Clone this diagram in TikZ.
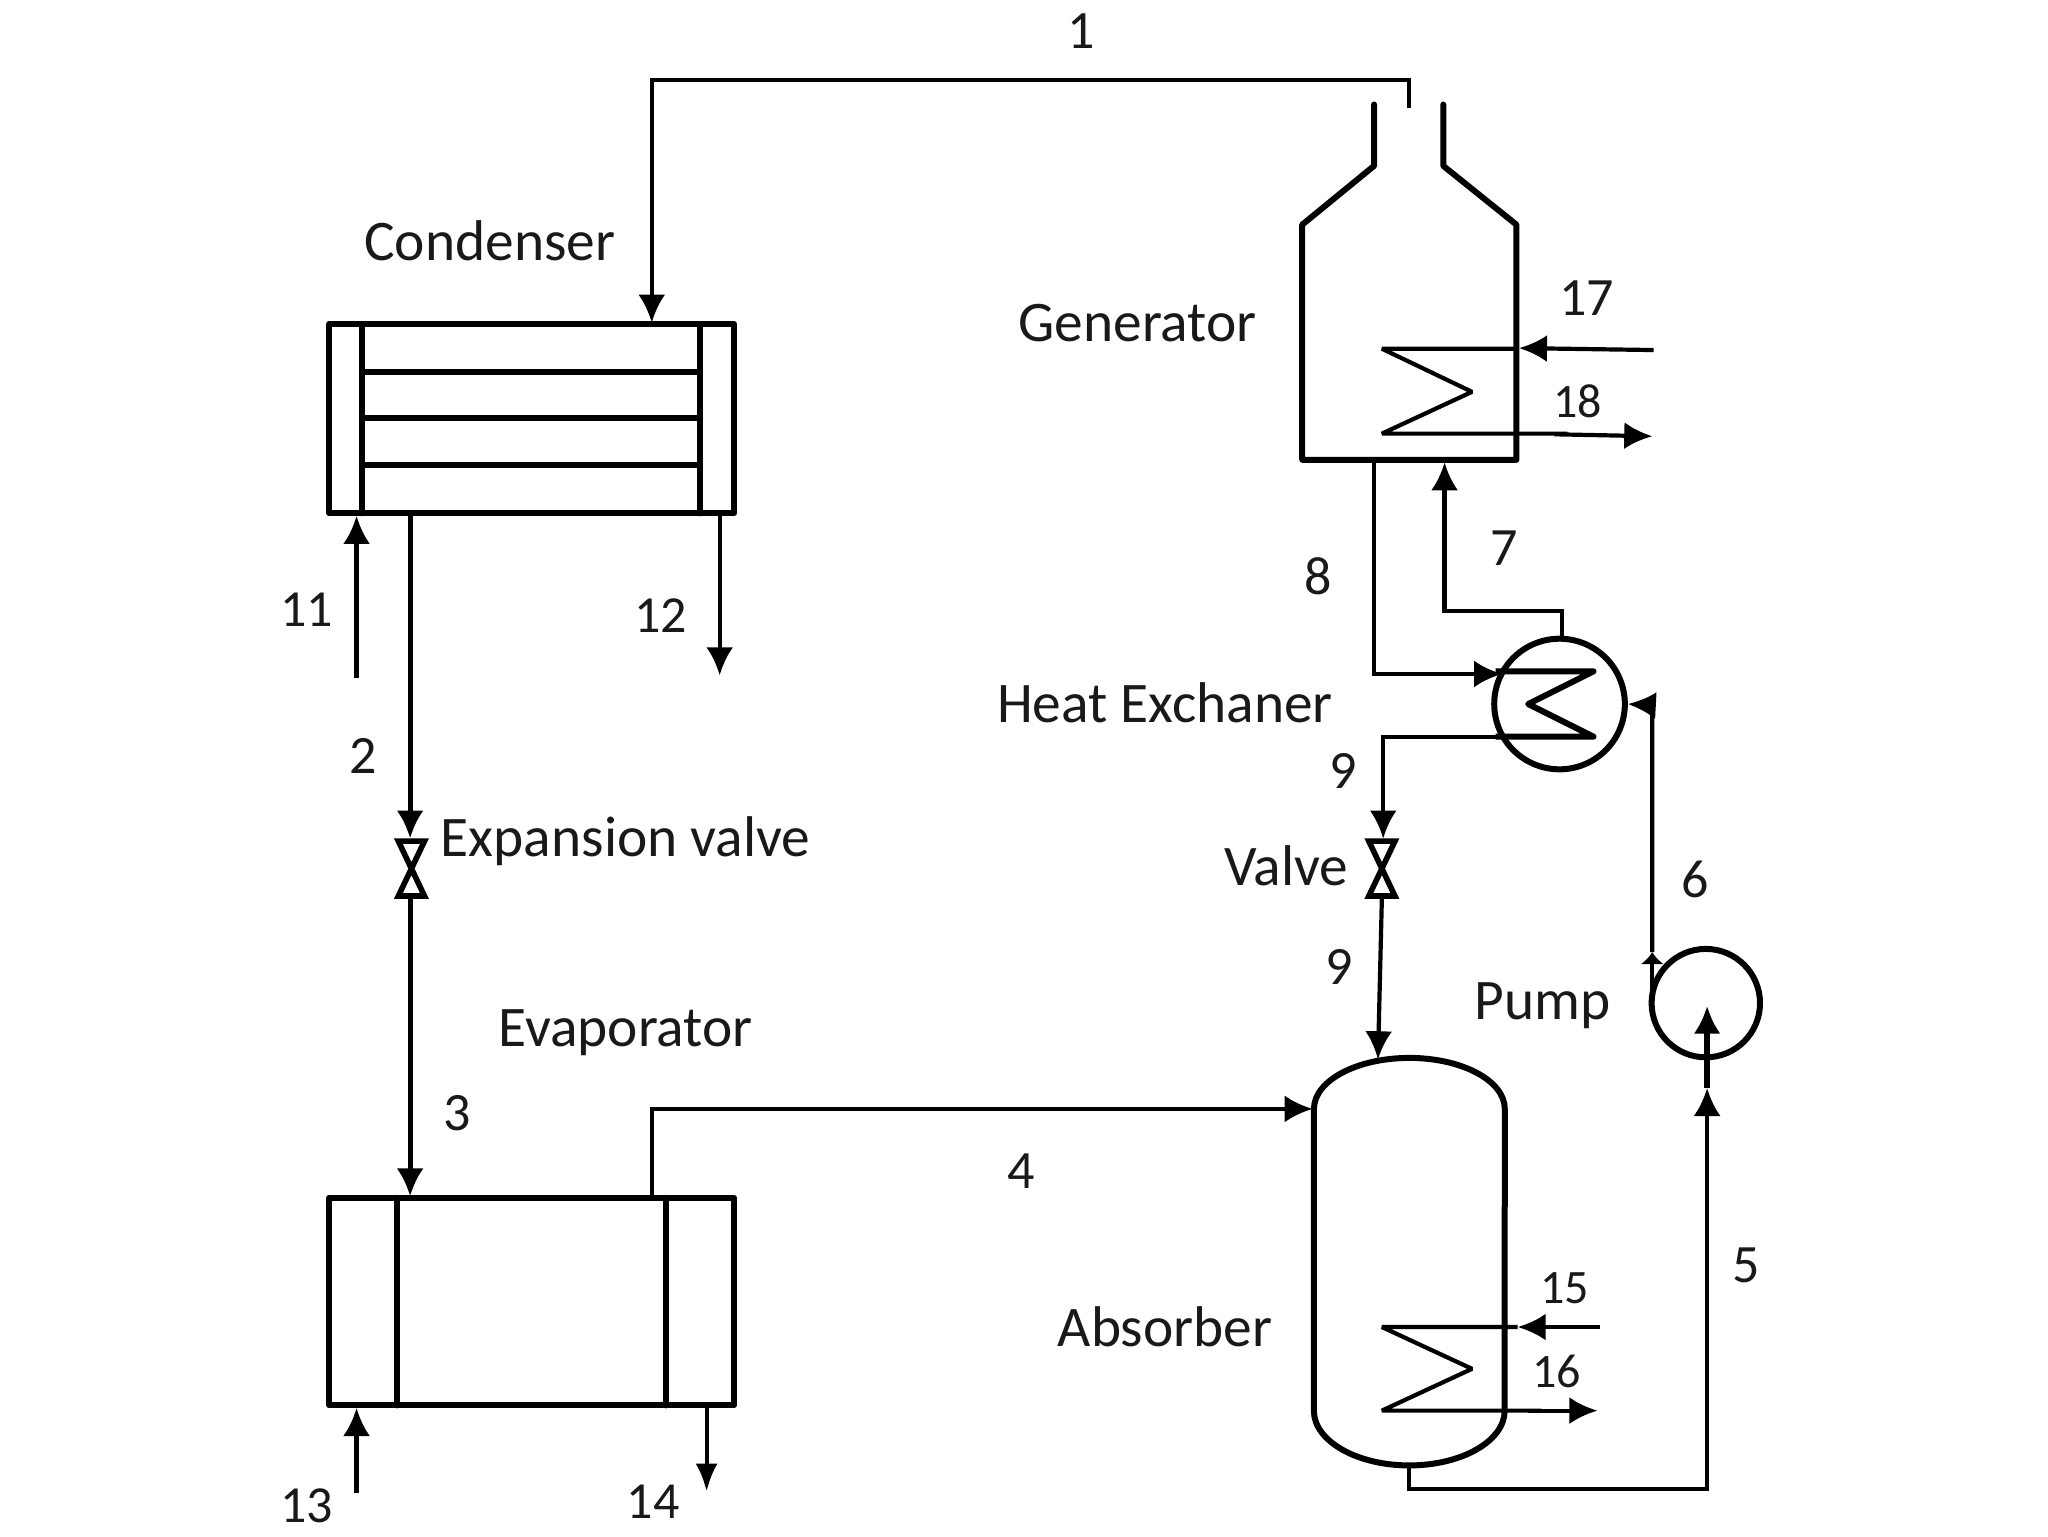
\documentclass[tikz,border=0pt]{standalone}
\usepackage{fontspec}
\setmainfont{Carlito}
\usetikzlibrary{arrows.meta}
\def\uu{0.65306pt}
\tikzset{
  x=0.65306pt,y=-0.65306pt,
  wall/.style={line width=3pt,line join=round,line cap=round},
  pipe/.style={line width=2.1pt,line join=miter},
  flow/.style={pipe,-{Latex[length=14pt,width=13.5pt]}},
  tinyflow/.style={pipe,-{Latex[length=6pt,width=12pt]}},
  label/.style={font=\fontsize{28.7pt}{31pt}\selectfont,inner sep=0pt,text=black!90},
  num/.style={font=\fontsize{27pt}{30pt}\selectfont,inner sep=0pt,text=black!90},
  small/.style={font=\fontsize{24pt}{28pt}\selectfont,inner sep=0pt,text=black!90},
  medium/.style={font=\fontsize{26pt}{28pt}\selectfont,inner sep=0pt,text=black!90},
  shell/.style={draw,wall,inner sep=0pt,rectangle},
  vessel/.style={draw,wall,inner sep=0pt,circle},
  valvebody/.style={line width=2.8pt,line join=miter},
}
\begin{document}
\begin{tikzpicture}
\useasboundingbox[fill=white] (0,0) rectangle (1568,1176);

% Units
\node[shell,minimum width={310*\uu},minimum height={145*\uu}] (cond) at (407,320.5) {};
\node[shell,minimum width={310*\uu},minimum height={159*\uu}] (evap) at (407,996.5) {};
\node[vessel,minimum size={100*\uu}] (hx) at (1194,539) {};
\node[vessel,minimum size={83*\uu}] (pump) at (1306,768) {};

% Condenser internals
\draw[wall] (277,248) -- (277,393) (536,248) -- (536,393);
\draw[wall] (277,285) -- (536,285) (277,320) -- (536,320) (277,356) -- (536,356);
% Evaporator internals
\draw[wall] (304,917) -- (304,1076) (510,917) -- (510,1076);

% Generator
\draw[wall] (1052,80) -- (1052,127) -- (997,172) -- (997,352) -- (1161,352) -- (1161,172) -- (1105,127) -- (1105,80);
\coordinate (genCoilA) at (1058,267);
\coordinate (genCoilB) at (1058,332);
\draw[pipe,line join=miter,miter limit=1] (1162,267) -- (genCoilA) -- (1127,300) -- (genCoilB) -- (1200,332);
\coordinate (s17) at (1266,268);
\coordinate (t17) at (1163,266.5);
\coordinate (t18) at (1265,334);
\draw[flow] (s17) -- (t17);
\draw[flow] (1190,332.5) -- (t18);

% Absorber
\draw[wall] (1006,849) arc[start angle=180,end angle=0,x radius=47.7pt,y radius=25.5pt]
  -- (1152,1080) arc[start angle=0,end angle=-180,x radius=47.7pt,y radius=27.4pt] -- cycle;
\coordinate (absTop) at (1055,811);
\coordinate (absLeft) at (1005,849);
\coordinate (absBot) at (1079,1122);
\coordinate (absCoilA) at (1058,1016);
\coordinate (absCoilB) at (1058,1080);
\draw[pipe,miter limit=1] (1162,1016) -- (absCoilA) -- (1127,1048) -- (absCoilB) -- (1180,1080);
\coordinate (s15) at (1225,1016);
\coordinate (t15) at (1162,1016);
\coordinate (t16) at (1223,1080);
\draw[flow] (s15) -- (t15);
\draw[flow] (1170,1080) -- (t16);

% Valves
\coordinate (v1t) at (315,642);
\coordinate (v1b) at (315,687);
\coordinate (v2t) at (1058,642);
\coordinate (v2b) at (1058,687);
\draw[valvebody] (305,644) -- (325,644) -- (305,686) -- (325,686) -- cycle;
\draw[valvebody] (1048,644) -- (1068,644) -- (1048,686) -- (1068,686) -- cycle;

% Main connectors
\coordinate (s1) at (1079,83);
\coordinate (b1) at (1079,61);
\coordinate (t1) at (499,247);
\draw[flow] (s1) -- (b1) -| (t1);
\coordinate (c2) at (314,393);
\draw[flow,line width=2.6pt] (c2) -- (v1t -| c2);
\draw[flow,line width=2.6pt] (v1b -| c2) -- (314,916);
\coordinate (c11) at (273,519);
\draw[flow] (c11) -- (273,395);
\coordinate (c12) at (551,393);
\draw[flow] (c12) -- (551,517);
\coordinate (c13) at (273,1143);
\draw[flow] (c13) -- (273,1078);
\coordinate (c14) at (541,1076);
\draw[pipe,-{Latex[length=14pt,width=11pt]}] (c14) -- (541,1142);
\coordinate (c4) at (499,917);
\draw[flow] (c4) -- (499,849) -- (absLeft);

% Absorber outlet to pump
\coordinate (b5) at (1307,1140);
\coordinate (t5) at (1307,833);
\draw[flow] (absBot) -- (1079,1140) -- (b5) -- (t5);
\draw[flow,line width=2.8pt] (t5) -- (1307,770);

% Pump to heat exchanger
\coordinate (p6a) at (1265,768);
\coordinate (p6b) at (1265,729);
\coordinate (p6c) at (1265,540);
\draw[tinyflow] (p6a) -- (p6b);
\draw[flow] (p6b) -- (p6c) -- (hx.east);

% Heat exchanger connections
\coordinate (h7) at (1196,468);
\coordinate (t7) at (1106,354);
\draw[flow] (hx.north -| h7) -- (h7) -- (1106,468) -- (t7);
\coordinate (g8) at (1052,352);
\coordinate (t8) at (1150,516);
\draw[flow] (g8) -- (1052,516) -- (t8);
\coordinate (zA) at (1145,514);
\coordinate (zB) at (1220,514);
\coordinate (zC) at (1170,539);
\coordinate (zD) at (1220,564);
\coordinate (zE) at (1145,564);
\draw[wall,line cap=butt,miter limit=1] (zA) -- (zB) -- (zC) -- (zD) -- (zE);
\coordinate (h9) at (1059,564);
\draw[flow] (zE) -- (h9) -- (v2t -| h9);
\draw[flow] (v2b) -- (absTop);

% Labels
\node[num] (n1) at (828,24) {1};
\node[label] (lcond) at (375,184) {Condenser};
\node[label] (lgen) at (871,247) {Generator};
\node[num] (n17) at (1215,228) {17};
\node[small] (n18) at (1208,307) {18};
\node[num] (n7) at (1152,420) {7};
\node[num] (n8) at (1009,441) {8};
\node[label] (lhx) at (892,538) {Heat Exchaner};
\node[num] (n9a) at (1028,590) {9};
\node[label] (lvalve) at (985,663) {Valve};
\node[num] (n6) at (1298,673) {6};
\node[num] (n9b) at (1025,740) {9};
\node[label] (lpump) at (1181,770) {Pump};
\node[num] (n5) at (1337,969) {5};
\node[num] (n4) at (782,897) {4};
\node[num] (n3) at (350,852) {3};
\node[num] (n2) at (278,579) {2};
\node[medium] (n11) at (235,467) {11};
\node[medium] (n12) at (506,471) {12};
\node[label] (lexp) at (479,644) {Expansion valve};
\node[label] (levap) at (479,791) {Evaporator};
\node[label] (labs) at (892,1016) {Absorber};
\node[small] (n15) at (1198,986) {15};
\node[small] (n16) at (1192,1050) {16};
\node[medium] (n13) at (235,1153) {13};
\node[medium] (n14) at (500,1150) {14};
\end{tikzpicture}
\end{document}
